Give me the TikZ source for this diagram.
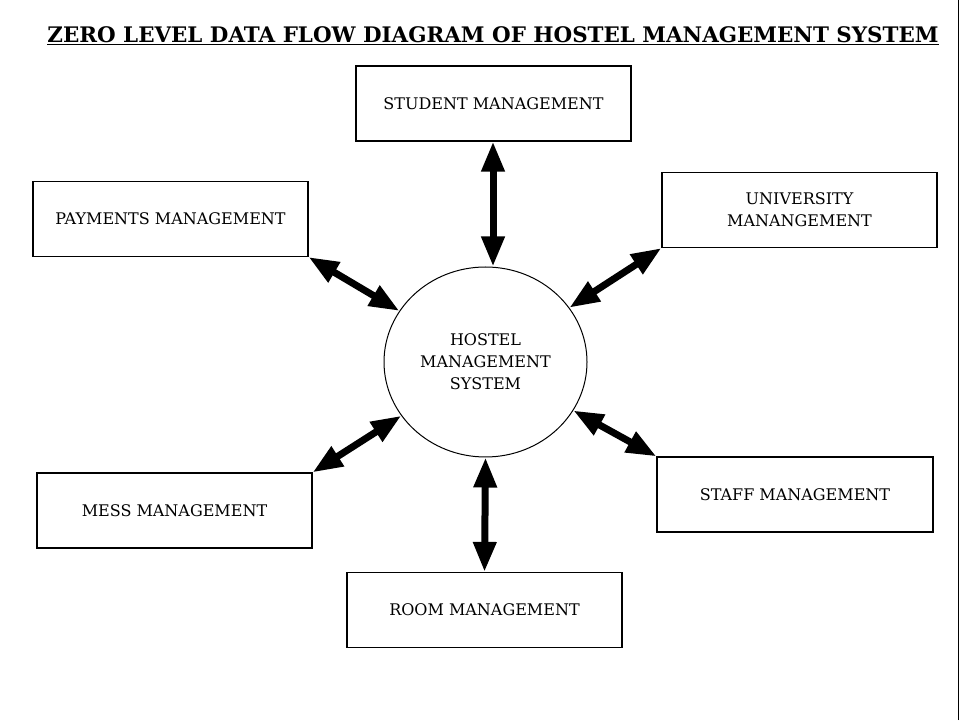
\documentclass[tikz,border=0pt]{standalone}
\usepackage{fontspec}
\setmainfont{DejaVu Serif}
\usetikzlibrary{arrows.meta,shapes.geometric}
\begin{document}
\begin{tikzpicture}[x=1pt,y=1pt,
		box/.style={draw, rectangle, line width=1.2pt, minimum width=275pt, minimum height=75pt, font=\fontsize{16}{22}\selectfont, align=center},
		flow/.style={line width=7pt, {Triangle[width=22pt,length=30pt]}-{Triangle[width=22pt,length=30pt]}}]
		\useasboundingbox (0,0) rectangle (960,720);
		\draw[line width=1pt] (958,0) -- (958,720);

		% Title
		\node[font=\bfseries\fontsize{21.4}{24}\selectfont] (title) at (493,684) {\underline{ZERO LEVEL DATA FLOW DIAGRAM OF HOSTEL MANAGEMENT SYSTEM}};

		% Centre process
		\node[draw, ellipse, line width=1pt, minimum width=203pt, minimum height=190pt, font=\fontsize{16}{22}\selectfont, align=center] (hms) at (485.5,358) {HOSTEL\\MANAGEMENT\\SYSTEM};

		% External entities
		\node[box] (stu) at (493.5,616.5) {STUDENT MANAGEMENT};
		\node[box] (pay) at (170.5,501) {PAYMENTS MANAGEMENT};
		\node[box] (uni) at (799.5,510) {UNIVERSITY\\MANANGEMENT};
		\node[box] (mess) at (174.5,209.5) {MESS MANAGEMENT};
		\node[box, minimum width=276pt] (staff) at (795,225.5) {STAFF MANAGEMENT};
		\node[box] (room) at (484.5,110) {ROOM MANAGEMENT};

		% Data flows
		\draw[flow] (stu.south -| 493,0) -- (hms.north -| 493,0);
		\draw[flow] (pay.south east) -- (hms);
		\draw[flow] (uni.south west) -- (hms);
		\draw[flow] (mess.north east) -- (hms);
		\draw[flow] (staff.north west) -- (hms);
		\draw[flow] (room.north) -- (hms.south);
	\end{tikzpicture}
\end{document}
